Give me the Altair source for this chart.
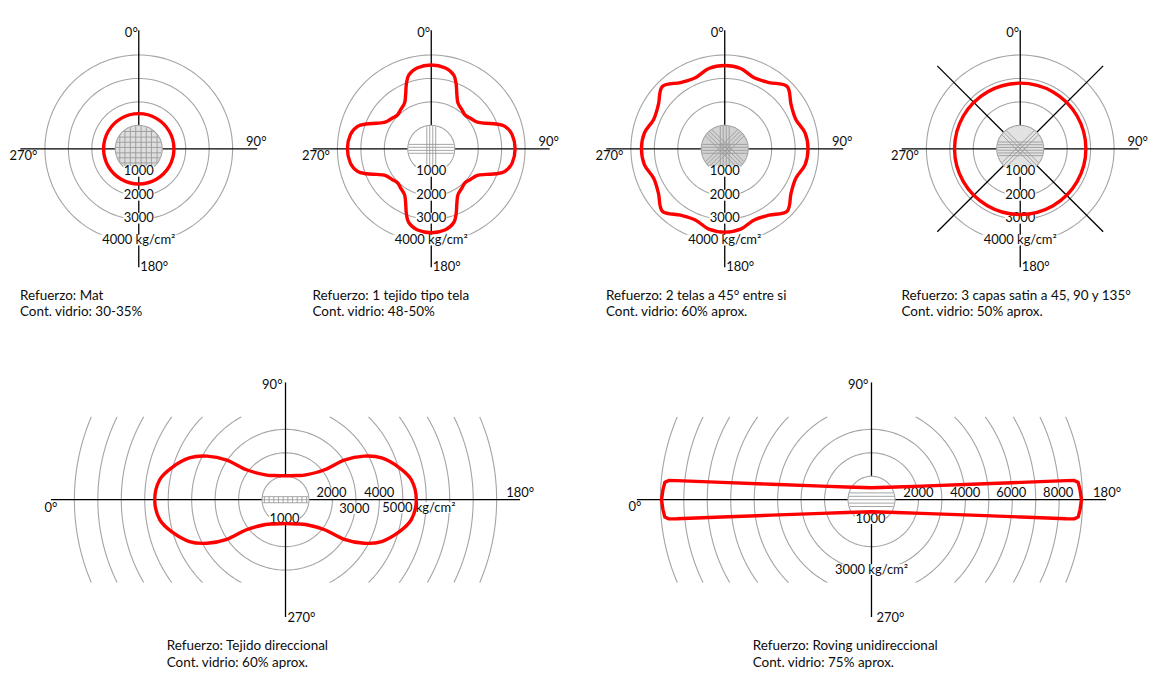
import altair as alt
import numpy as np
import pandas as pd

# ------------------------------------------------------------------
# DATA  (strength in kg/cm2, angle in degrees)
# ------------------------------------------------------------------
# Top diagrams: angle measured clockwise from 0 deg (top)
mat_angle = [0, 30, 60, 90, 120, 150, 180, 210, 240, 270, 300, 330]
mat_strength = [1500, 1500, 1500, 1500, 1500, 1500, 1500, 1500, 1500, 1500, 1500, 1500]

tela_angle = [0, 10, 17, 21, 25, 30, 38, 45, 52, 60, 65, 69, 73, 80,
              90, 100, 107, 111, 115, 120, 128, 135, 142, 150, 155, 159, 163, 170,
              180, 190, 197, 201, 205, 210, 218, 225, 232, 240, 245, 249, 253, 260,
              270, 280, 287, 291, 295, 300, 308, 315, 322, 330, 335, 339, 343, 350]
tela_strength = [3575, 3500, 3285, 2960, 2580, 2270, 2120, 2040, 2120, 2270, 2580, 2960, 3285, 3500,
                 3575, 3500, 3285, 2960, 2580, 2270, 2120, 2040, 2120, 2270, 2580, 2960, 3285, 3500,
                 3575, 3500, 3285, 2960, 2580, 2270, 2120, 2040, 2120, 2270, 2580, 2960, 3285, 3500,
                 3575, 3500, 3285, 2960, 2580, 2270, 2120, 2040, 2120, 2270, 2580, 2960, 3285, 3500]

dos_telas_angle = [0, 11.25, 22.5, 33.75, 45, 56.25, 67.5, 78.75,
                   90, 101.25, 112.5, 123.75, 135, 146.25, 157.5, 168.75,
                   180, 191.25, 202.5, 213.75, 225, 236.25, 247.5, 258.75,
                   270, 281.25, 292.5, 303.75, 315, 326.25, 337.5, 348.75]
dos_telas_strength = [3550, 3490, 3280, 3400, 3760, 3400, 3280, 3490,
                      3550, 3490, 3280, 3400, 3760, 3400, 3280, 3490,
                      3550, 3490, 3280, 3400, 3760, 3400, 3280, 3490,
                      3550, 3490, 3280, 3400, 3760, 3400, 3280, 3490]

satin_angle = [0, 30, 60, 90, 120, 150, 180, 210, 240, 270, 300, 330]
satin_strength = [2800, 2800, 2800, 2800, 2800, 2800, 2800, 2800, 2800, 2800, 2800, 2800]

# Bottom diagrams: 0 deg at left, 90 deg at top, 180 deg at right, 270 deg at bottom
direc_angle = [0, 9, 16, 23.5, 29, 34, 37.5, 51, 65, 90, 115, 129, 142.5, 146, 151, 156.5, 164, 171,
               180, 189, 196, 203.5, 209, 214, 217.5, 231, 245, 270, 295, 309, 322.5, 326, 331, 336.5, 344, 351]
direc_strength = [5575, 5430, 5020, 4470, 3830, 3020, 2100, 1360, 1140, 1020, 1140, 1360, 2100, 3020, 3830, 4470, 5020, 5430,
                  5575, 5430, 5020, 4470, 3830, 3020, 2100, 1360, 1140, 1020, 1140, 1360, 2100, 3020, 3830, 4470, 5020, 5430]

roving_angle = [0, 2.7, 4.8, 5.4, 5.6, 6.6, 8.8, 15.3, 27.1, 90, 152.9, 164.7, 171.2, 173.4, 174.4, 174.6, 175.2, 177.3,
                180, 182.7, 184.8, 185.4, 185.6, 186.6, 188.8, 195.3, 207.1, 270, 332.9, 344.7, 351.2, 353.4, 354.4, 354.6, 355.2, 357.3]
roving_strength = [8950, 8900, 8840, 8680, 8340, 6425, 4305, 2205, 1195, 510, 1195, 2205, 4305, 6425, 8340, 8680, 8840, 8900,
                   8950, 8900, 8840, 8680, 8340, 6425, 4305, 2205, 1195, 510, 1195, 2205, 4305, 6425, 8340, 8680, 8840, 8900]

top_rings = [2000, 3000, 4000]
bottom_rings = [2000, 3000, 4000, 5000, 6000, 7000, 8000, 9000]

captions = [
    ["Refuerzo: Mat", "Cont. vidrio: 30-35%"],
    ["Refuerzo: 1 tejido tipo tela", "Cont. vidrio: 48-50%"],
    ["Refuerzo: 2 telas a 45\u00b0 entre si", "Cont. vidrio: 60% aprox."],
    ["Refuerzo: 3 capas satin a 45, 90 y 135\u00b0", "Cont. vidrio: 50% aprox."],
    ["Refuerzo: Tejido direccional", "Cont. vidrio: 60% aprox."],
    ["Refuerzo: Roving unidireccional", "Cont. vidrio: 75% aprox."],
]

# ------------------------------------------------------------------
# STYLE / GEOMETRY
# ------------------------------------------------------------------
PX = 23.5            # screen px per 1000 kg/cm2
K = 1000.0 / PX      # kg/cm2 per screen px
FONT = "Lato"
FS_LAB = 13
FS_CAP = 13.5
TXT = "#0d0d0d"
GRID = "#a4a4a4"
HATCH = "#9a9a9a"
RED = "#ff0000"


def curve_df(angles, strengths, mode):
    a = np.deg2rad(np.asarray(angles, float))
    r = np.asarray(strengths, float)
    if mode == "top":
        x, y = r * np.sin(a), r * np.cos(a)
    else:
        x, y = -r * np.cos(a), r * np.sin(a)
    return pd.DataFrame({"x": x, "y": y, "i": np.arange(len(r))})


def ring_df(radii, clip=None):
    rows = []
    for R in radii:
        if clip is None or R <= clip:
            arcs = [(0.0, 360.0)]
        else:
            a = np.degrees(np.arcsin(clip / R))
            arcs = [(-a, a), (180 - a, 180 + a)]
        for j, (a0, a1) in enumerate(arcs):
            t = np.deg2rad(np.linspace(a0, a1, 140))
            for i, tt in enumerate(t):
                rows.append(dict(x=R * np.cos(tt), y=R * np.sin(tt), seg=f"{R}-{j}", i=i))
    return pd.DataFrame(rows)


def chords(specs, R=1000.0, ticks=None):
    rows = []
    for phi, offs in specs:
        p = np.deg2rad(phi)
        ux, uy = np.cos(p), np.sin(p)
        nx, ny = -uy, ux
        for d in offs:
            h = np.sqrt(R * R - d * d) * 0.97
            rows.append(dict(x1=d * nx - h * ux, y1=d * ny - h * uy,
                             x2=d * nx + h * ux, y2=d * ny + h * uy))
    if ticks is not None:
        xs_, h = ticks
        for t in xs_:
            rows.append(dict(x1=t, y1=-h, x2=t, y2=h))
    return pd.DataFrame(rows)


def axes_df(hx, vy, diag=None):
    rows = [dict(x1=-hx, x2=hx, y1=0, y2=0), dict(x1=0, x2=0, y1=-vy, y2=vy)]
    if diag is not None:
        r0, r1 = diag
        for ang in (45, 135, 225, 315):
            a = np.deg2rad(ang)
            rows.append(dict(x1=r0 * np.sin(a), x2=r1 * np.sin(a), y1=r0 * np.cos(a), y2=r1 * np.cos(a)))
    return pd.DataFrame(rows)


# labels: (text, x_px, y_px, align, has_background)
top_labels = [
    ("1000", 0, -22.5, "center", True),
    ("2000", 0, -46.5, "center", True),
    ("3000", 0, -69.5, "center", True),
    ("4000 kg/cm\u00b2", 0, -91.5, "center", True),
    ("0\u00b0", -1, 116.5, "right", False),
    ("90\u00b0", 107.5, 6.5, "left", False),
    ("270\u00b0", -129.5, -7.5, "left", False),
    ("180\u00b0", 1.5, -118.5, "left", False),
]
bl_labels = [
    ("2000", 46, 6.5, "center", True),
    ("4000", 94, 6.5, "center", True),
    ("3000", 69, -9, "center", True),
    ("5000 kg/cm\u00b2", 97, -8, "left", True),
    ("1000", -1, -19, "center", True),
    ("0\u00b0", -235, -8, "center", False),
    ("180\u00b0", 221, 6.5, "left", False),
    ("90\u00b0", -3, 115, "right", False),
    ("270\u00b0", 2, -118, "left", False),
]
br_labels = [
    ("2000", 47, 6.5, "center", True),
    ("4000", 94, 6.5, "center", True),
    ("6000", 140, 6.5, "center", True),
    ("8000", 187, 6.5, "center", True),
    ("1000", -1, -19, "center", True),
    ("3000 kg/cm\u00b2", 0, -70, "center", True),
    ("0\u00b0", -237, -7, "center", False),
    ("180\u00b0", 222, 6.5, "left", False),
    ("90\u00b0", -3, 115, "right", False),
    ("270\u00b0", 5, -118, "left", False),
]


def build(cfg):
    left, width, top, height = cfg["left"], cfg["width"], cfg["top"], cfg["height"]
    xs = alt.Scale(domain=[-left * K, (width - left) * K], nice=False, zero=False)
    ys = alt.Scale(domain=[-(height - top) * K, top * K], nice=False, zero=False)

    def X(f):
        return alt.X(f, type="quantitative", scale=xs, axis=None)

    def Y(f):
        return alt.Y(f, type="quantitative", scale=ys, axis=None)

    layers = []
    # grid rings
    layers.append(alt.Chart(ring_df(cfg["rings"], cfg.get("clip"))).mark_line(
        color=GRID, strokeWidth=1.1).encode(x=X("x"), y=Y("y"), detail="seg:N", order=alt.Order("i:Q")))
    # axes
    layers.append(alt.Chart(cfg["axes"]).mark_rule(color="#000000", strokeWidth=1.3).encode(
        x=X("x1"), x2="x2", y=Y("y1"), y2="y2"))
    # fibre disk
    t = np.linspace(np.pi, 0, 121)
    disk = pd.DataFrame({"x": 1000 * np.cos(t), "y": 1000 * np.sin(t), "y2": -1000 * np.sin(t)})
    layers.append(alt.Chart(disk).mark_area(color=cfg["fill"], opacity=1).encode(
        x=X("x"), y=Y("y"), y2="y2"))
    layers.append(alt.Chart(cfg["hatch"]).mark_rule(color=HATCH, strokeWidth=0.9).encode(
        x=X("x1"), x2="x2", y=Y("y1"), y2="y2"))
    layers.append(alt.Chart(ring_df([1000])).mark_line(color=GRID, strokeWidth=1.1).encode(
        x=X("x"), y=Y("y"), detail="seg:N", order=alt.Order("i:Q")))
    # label backgrounds
    bg = []
    for text, lx, ly, al, has_bg in cfg["labels"]:
        if not has_bg:
            continue
        w = len(text) * 7.0 + 3
        if al == "center":
            x1, x2 = lx - w / 2, lx + w / 2
        else:
            x1, x2 = lx - 2, lx + w - 2
        bg.append(dict(x1=x1 * K, x2=x2 * K, y1=(ly - 5.4) * K, y2=(ly + 5.4) * K))
    layers.append(alt.Chart(pd.DataFrame(bg)).mark_rect(color="white").encode(
        x=X("x1"), x2="x2", y=Y("y1"), y2="y2"))
    # labels
    lab = pd.DataFrame([dict(text=t_, x=lx * K, y=ly * K, align=al) for t_, lx, ly, al, _ in cfg["labels"]])
    for al in ("center", "left", "right"):
        sub = lab[lab["align"] == al]
        if len(sub) == 0:
            continue
        layers.append(alt.Chart(sub).mark_text(font=FONT, fontSize=FS_LAB, color=TXT, align=al,
                                                baseline="middle").encode(x=X("x"), y=Y("y"), text="text:N"))
    # strength curve
    layers.append(alt.Chart(cfg["curve"]).mark_line(color=RED, strokeWidth=3.4, interpolate=cfg["interp"],
                                                    strokeJoin="round").encode(
        x=X("x"), y=Y("y"), order=alt.Order("i:Q")))
    # caption
    cap = pd.DataFrame({"text": cfg["caption"], "x": [-119 * K, -119 * K], "y": [-147 * K, -163.5 * K]})
    layers.append(alt.Chart(cap).mark_text(font=FONT, fontSize=FS_CAP, color=TXT, align="left",
                                           baseline="middle").encode(x=X("x"), y=Y("y"), text="text:N"))
    return alt.layer(*layers).properties(width=width, height=height)


TOP_H, TOP_T = 332, 140.5
BOT_H, BOT_T = 334, 160
top_axes = axes_df(5050, 5050)
bot_axes = axes_df(10000, 5000)

mat_hatch = chords([(0, [-820, -600, -380, -170, 60, 280, 500, 740]),
                    (90, [-780, -540, -320, -100, 130, 360, 590, 810])])
tela_hatch = chords([(0, [-190, -65, 65, 190]), (90, [-190, -65, 65, 190])])
dos_hatch = chords([(0, [-190, -65, 65, 190]), (45, [-190, -65, 65, 190]),
                    (90, [-190, -65, 65, 190]), (135, [-190, -65, 65, 190])])
satin_hatch = chords([(0, [-290, -175, -60, 60, 175, 290]), (45, [-130, 0, 130]), (135, [-130, 0, 130])])
direc_hatch = chords([(0, [-130, 0, 130])],
                     ticks=([-900, -700, -500, -300, -100, 100, 300, 500, 700, 900], 130))
roving_hatch = chords([(0, [-290, -145, 0, 145, 290])])

panels_top = [
    dict(left=131, width=294, top=TOP_T, height=TOP_H, rings=top_rings, axes=top_axes, fill="#dedede",
         hatch=mat_hatch, labels=top_labels, curve=curve_df(mat_angle, mat_strength, "top"),
         interp="cardinal-closed", caption=captions[0]),
    dict(left=130, width=294, top=TOP_T, height=TOP_H, rings=top_rings, axes=top_axes, fill="#ffffff",
         hatch=tela_hatch, labels=top_labels, curve=curve_df(tela_angle, tela_strength, "top"),
         interp="cardinal-closed", caption=captions[1]),
    dict(left=129, width=294, top=TOP_T, height=TOP_H, rings=top_rings, axes=top_axes, fill="#d2d2d2",
         hatch=dos_hatch, labels=top_labels, curve=curve_df(dos_telas_angle, dos_telas_strength, "top"),
         interp="cardinal-closed", caption=captions[2]),
    dict(left=131, width=258, top=TOP_T, height=TOP_H, rings=top_rings, axes=axes_df(5050, 5050, (1000, 5000)),
         fill="#e2e2e2", hatch=satin_hatch, labels=top_labels, curve=curve_df(satin_angle, satin_strength, "top"),
         interp="cardinal-closed", caption=captions[3]),
]
panels_bottom = [
    dict(left=278, width=570, top=BOT_T, height=BOT_H, rings=bottom_rings, clip=83 * K, axes=bot_axes,
         fill="#ffffff", hatch=direc_hatch, labels=bl_labels, curve=curve_df(direc_angle, direc_strength, "bottom"),
         interp="cardinal-closed", caption=captions[4]),
    dict(left=295, width=570, top=BOT_T, height=BOT_H, rings=bottom_rings, clip=83 * K, axes=bot_axes,
         fill="#ffffff", hatch=roving_hatch, labels=br_labels, curve=curve_df(roving_angle, roving_strength, "bottom"),
         interp="linear-closed", caption=captions[5]),
]

top_row = alt.hconcat(*[build(c) for c in panels_top], spacing=0)
bottom_row = alt.hconcat(*[build(c) for c in panels_bottom], spacing=0)

chart = alt.vconcat(top_row, bottom_row, spacing=0).properties(padding=0).configure_view(strokeWidth=0)

chart.save("out.html", embed_options={"renderer": "svg", "actions": False})
